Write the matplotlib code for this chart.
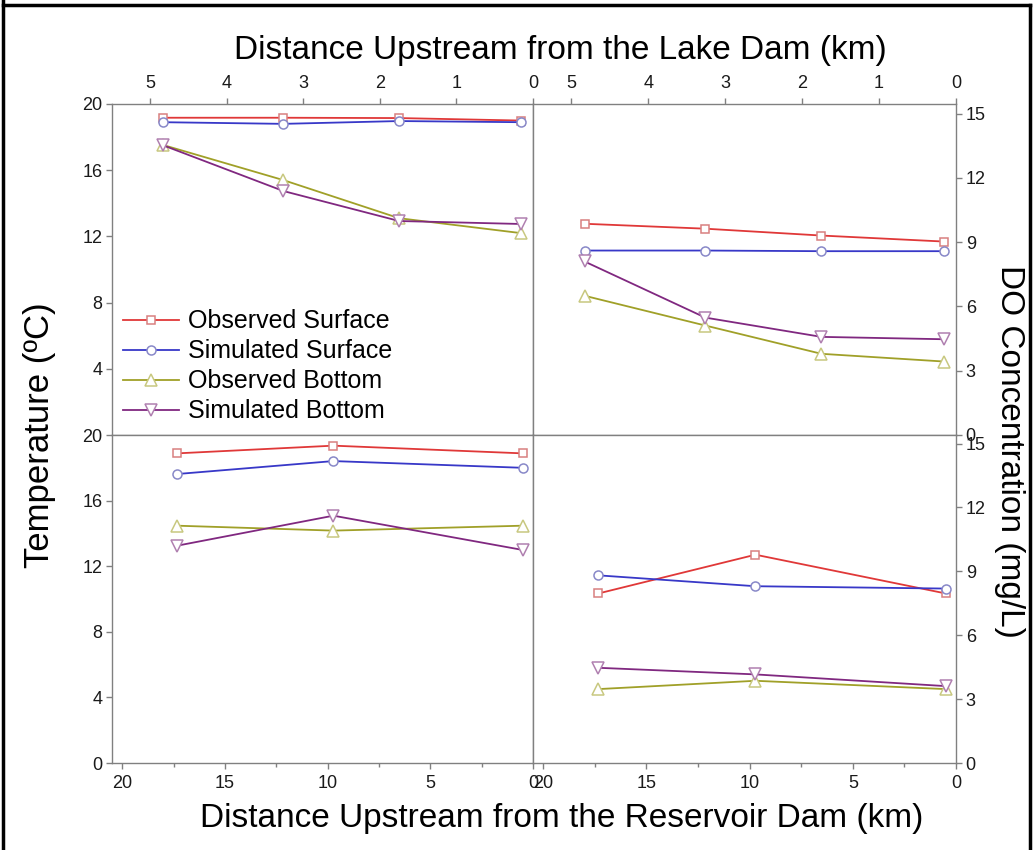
import matplotlib
matplotlib.use('Agg')
import matplotlib.pyplot as plt
from matplotlib.ticker import MultipleLocator
from matplotlib.lines import Line2D

plt.rcParams['font.family'] = ['Liberation Sans', 'DejaVu Sans']

labels = ['Observed Surface', 'Simulated Surface', 'Observed Bottom', 'Simulated Bottom']

# Lake (top row), distance in km
lake_km = [4.83, 3.26, 1.75, 0.16]
lake_temp_obs_surf = [19.17, 19.17, 19.15, 19.0]
lake_temp_sim_surf = [18.9, 18.8, 18.97, 18.9]
lake_temp_obs_bot = [17.52, 15.4, 13.1, 12.2]
lake_temp_sim_bot = [17.5, 14.74, 12.93, 12.75]
lake_do_obs_surf = [9.86, 9.63, 9.31, 9.03]
lake_do_sim_surf = [8.61, 8.61, 8.58, 8.58]
lake_do_obs_bot = [6.50, 5.11, 3.79, 3.43]
lake_do_sim_bot = [8.10, 5.48, 4.58, 4.47]

# Reservoir (bottom row)
res_km = [17.33, 9.72, 0.5]
res_temp_obs_surf = [18.88, 19.35, 18.88]
res_temp_sim_surf = [17.62, 18.41, 18.0]
res_temp_obs_bot = [14.47, 14.17, 14.47]
res_temp_sim_bot = [13.25, 15.08, 12.99]
res_do_obs_surf = [7.96, 9.78, 7.96]
res_do_sim_surf = [8.81, 8.30, 8.19]
res_do_obs_bot = [3.47, 3.86, 3.47]
res_do_sim_bot = [4.47, 4.16, 3.61]

line_colors = ['#e03838', '#3838c8', '#a0a028', '#802880']
edge_colors = ['#d88080', '#8888c8', '#c8c880', '#b080b0']
markers = ['s', 'o', '^', 'v']
msizes = [6, 6.5, 8, 8]

fig = plt.figure(figsize=(10.33, 8.5), dpi=100)
W, H = 1033.0, 850.0

def pos(x0, y0, x1, y1):
    return [x0 / W, 1 - y1 / H, (x1 - x0) / W, (y1 - y0) / H]

ax_tl = fig.add_axes(pos(112, 104, 533, 435))
ax_tr = fig.add_axes(pos(533, 104, 956, 435))
ax_bl = fig.add_axes(pos(112, 435, 533, 763))
ax_br = fig.add_axes(pos(533, 435, 956, 763))

spine_col = '#808080'
for ax in [ax_tl, ax_tr, ax_bl, ax_br]:
    for s in ax.spines.values():
        s.set_color(spine_col)
        s.set_linewidth(1.0)
    ax.tick_params(which='both', color=spine_col, labelcolor='#1a1a1a',
                   labelsize=13, direction='out', length=4, width=1.0)
    ax.tick_params(which='minor', length=3)


def draw(ax, x, ys):
    for i, y in enumerate(ys):
        ax.plot(x, y, color=line_colors[i], lw=1.3, marker=markers[i], ms=msizes[i],
                mfc='white', mec=edge_colors[i], mew=1.1, label=labels[i])


draw(ax_tl, lake_km, [lake_temp_obs_surf, lake_temp_sim_surf, lake_temp_obs_bot, lake_temp_sim_bot])
draw(ax_tr, lake_km, [lake_do_obs_surf, lake_do_sim_surf, lake_do_obs_bot, lake_do_sim_bot])
draw(ax_bl, res_km, [res_temp_obs_surf, res_temp_sim_surf, res_temp_obs_bot, res_temp_sim_bot])
draw(ax_br, res_km, [res_do_obs_surf, res_do_sim_surf, res_do_obs_bot, res_do_sim_bot])

# top row: lake axis on top
for ax in [ax_tl, ax_tr]:
    ax.set_xlim(5.5, 0)
    ax.set_xticks([5, 4, 3, 2, 1, 0])
    ax.xaxis.set_ticks_position('top')
    ax.xaxis.set_label_position('top')
    ax.tick_params(axis='x', pad=5)

# bottom row: reservoir axis on bottom
for ax in [ax_bl, ax_br]:
    ax.set_xlim(20.5, 0)
    ax.set_xticks([20, 15, 10, 5, 0])
    ax.xaxis.set_minor_locator(MultipleLocator(2.5))
    ax.xaxis.set_ticks_position('bottom')
    ax.tick_params(axis='x', pad=5)

# temperature axes on left
ax_tl.set_ylim(0, 20)
ax_tl.set_yticks([4, 8, 12, 16, 20])
ax_bl.set_ylim(0, 20)
ax_bl.set_yticks([0, 4, 8, 12, 16, 20])
for ax in [ax_tl, ax_bl]:
    ax.yaxis.set_ticks_position('left')
    ax.tick_params(axis='y', pad=3)

# DO axes on right
ax_tr.set_ylim(0, 15.45)
ax_br.set_ylim(0, 15.4)
for ax in [ax_tr, ax_br]:
    ax.set_yticks([0, 3, 6, 9, 12, 15])
    ax.yaxis.set_ticks_position('right')
    ax.tick_params(axis='y', pad=3)

ax_tl.legend(loc='lower left', bbox_to_anchor=(0.026, 0.035), frameon=False,
             fontsize=18, handlelength=2.25, handletextpad=0.35, labelspacing=0.24,
             borderpad=0, borderaxespad=0)

fig.text(560 / W, 1 - 50 / H, 'Distance Upstream from the Lake Dam (km)',
         ha='center', va='center', fontsize=24)
fig.text(562 / W, 1 - 818 / H, 'Distance Upstream from the Reservoir Dam (km)',
         ha='center', va='center', fontsize=24)
fig.text(40 / W, 1 - 435 / H, 'Temperature (ºC)', rotation=90,
         ha='center', va='center', fontsize=25)
fig.text(1010 / W, 1 - 451 / H, 'DO Concentration (mg/L)', rotation=270,
         ha='center', va='center', fontsize=24)

# outer frame of the original figure
for xs, ys in [([3, 3], [0, 850]), ([3, 1030], [5, 5]), ([1030, 1030], [5, 850])]:
    fig.add_artist(Line2D([x / W for x in xs], [1 - y / H for y in ys],
                          color='black', lw=2.5))

plt.savefig('out.png', dpi=100)
